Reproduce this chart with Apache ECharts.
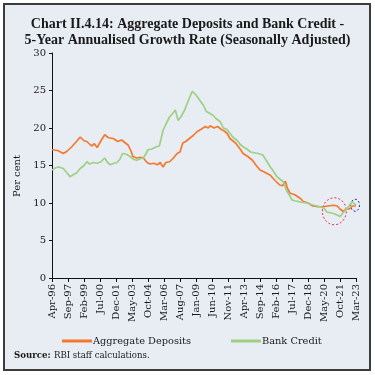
<!DOCTYPE html>
<html>
<head>
<meta charset="utf-8">
<script src="https://cdn.jsdelivr.net/npm/echarts@6/dist/echarts.min.js"></script>
<style>
html,body{margin:0;padding:0;background:#fff;}
#frame{position:absolute;left:3px;top:3px;width:364px;height:364px;border:2px solid #3c3c3c;background:#e8ecf3;}
#chart{position:absolute;left:0;top:0;width:375px;height:375px;}
</style>
</head>
<body>
<div id="frame"></div>
<div id="chart"></div>
<script>
// ---- Data (month offsets from Apr-96) ----
const depositMonths = [0,6,12,16,21,26,30,34,37,42,45,48,52,56,60,65,70,74,78,81,84,86,90,94,97,101,104,108,112,115,118,121,125,129,133,136,139,142,145,150,154,158,163,166,168,172,176,180,183,186,189,191,195,198,201,203,208,213,217,221,226,232,237,242,245,248,250,253,258,264,267,272,277,283,288,293,299,303,306,309,313,316,319,321,323];
const depositValues = [17.1,17.0,16.6,16.9,17.5,18.2,18.8,18.3,18.2,17.6,17.9,17.4,18.3,19.1,18.7,18.6,18.2,18.4,18.0,17.7,16.9,16.2,16.0,16.1,16.0,15.4,15.2,15.3,15.1,15.4,14.8,15.4,15.5,16.0,16.6,16.8,18.0,18.2,18.5,19.0,19.5,19.8,20.2,20.0,20.3,20.0,20.2,19.8,19.6,19.3,18.6,18.4,18.0,17.5,17.0,16.6,16.2,15.7,15.0,14.4,14.1,13.7,13.0,12.4,12.3,12.9,12.0,11.3,11.1,10.6,10.2,10.0,9.6,9.5,9.5,9.6,9.7,9.6,9.2,8.9,9.2,9.2,9.6,9.4,9.6];
const creditMonths = [0,4,7,12,16,19,23,26,30,34,37,40,44,48,52,56,59,62,66,69,72,75,79,83,87,90,94,97,100,102,106,111,114,116,118,121,125,128,131,134,137,141,144,146,149,153,157,161,164,167,171,174,176,179,182,186,189,192,197,200,203,207,211,215,219,224,228,232,236,239,243,246,249,252,255,258,260,265,271,278,285,289,292,296,299,303,306,308,310,313,315,319,321,323];
const creditValues = [14.4,14.7,14.8,14.6,14.0,13.5,13.8,14.0,14.6,15.0,15.5,15.2,15.4,15.3,15.5,16.0,15.4,15.1,15.3,15.4,15.8,16.6,16.5,16.2,15.8,15.7,15.9,16.0,16.6,17.1,17.2,17.5,17.6,18.6,19.7,20.5,21.5,21.9,22.4,21.0,21.5,22.4,23.4,24.0,24.9,24.4,23.7,23.0,22.2,22.0,21.7,21.3,21.5,20.8,20.0,19.8,19.3,18.8,18.3,17.8,17.5,17.2,16.8,16.7,16.6,16.4,15.6,14.8,14.1,13.5,13.1,12.8,11.7,11.1,10.4,10.3,10.2,10.1,10.0,9.7,9.5,9.3,8.8,8.7,8.6,8.4,8.2,8.4,8.8,9.2,9.5,10.2,9.9,9.7];
const yTicks = [0,5,10,15,20,25,30];
const seriesNames = ['Aggregate Deposits','Bank Credit'];
const redCircle = {month: 300, value: 8.9};
const blueCircle = {month: 322, value: 9.7};

// ---- Category labels Apr-96 .. Mar-23 ----
const monNames = ['Jan','Feb','Mar','Apr','May','Jun','Jul','Aug','Sep','Oct','Nov','Dec'];
const months = [];
for (let i = 0; i < 324; i++) {
  const m = (3 + i) % 12;
  const y = 1996 + Math.floor((3 + i) / 12);
  months.push(monNames[m] + '-' + String(y % 100).padStart(2, '0'));
}
const pair = (ms, vs) => ms.map((m, k) => [months[m], vs[k]]);

const SERIF = '"DejaVu Serif", serif';
const chart = echarts.init(document.getElementById('chart'), null, {renderer: 'canvas'});
chart.setOption({
  animation: false,
  backgroundColor: 'transparent',
  title: {
    text: 'Chart II.4.14: Aggregate Deposits and Bank Credit -\n5-Year Annualised Growth Rate (Seasonally Adjusted)',
    left: 'center', top: 11,
    textStyle: {fontFamily: '"Liberation Serif", serif', fontWeight: 'bold', fontSize: 14, lineHeight: 16, color: '#1a1a1a'}
  },
  grid: {left: 52, right: 19, top: 53, bottom: 97, containLabel: false},
  xAxis: {
    type: 'category', data: months, boundaryGap: false,
    axisLine: {lineStyle: {color: '#111', width: 1}},
    axisTick: {interval: 16, length: 4, lineStyle: {color: '#111'}},
    axisLabel: {interval: 16, rotate: 90, fontFamily: SERIF, fontSize: 10, color: '#1a1a1a', margin: 6},
    splitLine: {show: false}
  },
  yAxis: {
    type: 'value', min: yTicks[0], max: yTicks[yTicks.length - 1], interval: 5,
    axisLine: {show: true, lineStyle: {color: '#111', width: 1}},
    axisTick: {show: true, length: 3, lineStyle: {color: '#111'}},
    axisLabel: {fontFamily: SERIF, fontSize: 10, color: '#1a1a1a', margin: 6},
    splitLine: {show: false}
  },
  legend: {
    data: seriesNames, left: 57, top: 331, itemWidth: 30, itemHeight: 3, itemGap: 40,
    icon: 'rect',
    textStyle: {fontFamily: SERIF, fontSize: 9.8, color: '#1a1a1a', padding: [0,0,0,-4]}
  },
  series: [
    {name: seriesNames[0], type: 'line', data: pair(depositMonths, depositValues), showSymbol: false,
     lineStyle: {color: '#f4792f', width: 1.7}, itemStyle: {color: '#f4792f'}},
    {name: seriesNames[1], type: 'line', data: pair(creditMonths, creditValues), showSymbol: false,
     lineStyle: {color: '#9dd084', width: 1.7}, itemStyle: {color: '#9dd084'}}
  ]
});

const rc = chart.convertToPixel({xAxisIndex: 0, yAxisIndex: 0}, [months[redCircle.month], redCircle.value]);
const bc = chart.convertToPixel({xAxisIndex: 0, yAxisIndex: 0}, [months[blueCircle.month], blueCircle.value]);
chart.setOption({
  graphic: [
    {type: 'text', rotation: Math.PI / 2, x: 17, y: 176,
     style: {text: 'Per cent', fontFamily: SERIF, fontSize: 10, fill: '#1a1a1a', align: 'center', verticalAlign: 'middle'}},
    {type: 'ellipse', shape: {cx: rc[0], cy: rc[1], rx: 12, ry: 13.5},
     style: {fill: 'none', stroke: '#e0364a', lineWidth: 1, lineDash: [2, 2]}},
    {type: 'ellipse', shape: {cx: bc[0], cy: bc[1], rx: 4.5, ry: 6},
     style: {fill: 'none', stroke: '#2a2ab0', lineWidth: 1, lineDash: [2, 2]}},
    {type: 'text', left: 14, top: 350,
     style: {rich: {b: {fontFamily: SERIF, fontSize: 8.6, fontWeight: 'bold', fill: '#1a1a1a'},
                    n: {fontFamily: SERIF, fontSize: 8.6, fill: '#1a1a1a'}},
             text: '{b|Source:} {n|RBI staff calculations.}'}}
  ]
});
</script>
</body>
</html>
